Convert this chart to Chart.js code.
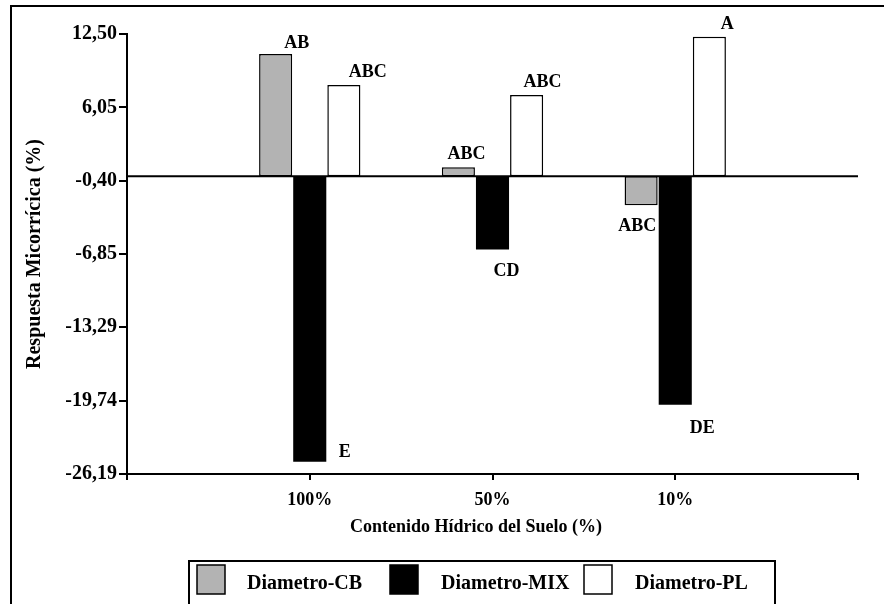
<!DOCTYPE html>
<html>
<head>
<meta charset="utf-8">
<script src="https://cdn.jsdelivr.net/npm/chart.js@4.4.1/dist/chart.umd.min.js"></script>
<style>
  html, body { margin: 0; padding: 0; background: #fff; }
  canvas { display: block; }
</style>
</head>
<body>
<canvas id="chart" width="884" height="604"></canvas>
<script>
  // values
  const categories = ['100%', '50%', '10%'];
  const seriesNames = ['Diametro-CB', 'Diametro-MIX', 'Diametro-PL'];
  const cbValues = [10.75, 0.79, -2.56];
  const mixValues = [-25.12, -6.44, -20.10];
  const plValues = [8.02, 7.14, 12.25];
  const cbLetters = ['AB', 'ABC', 'ABC'];
  const mixLetters = ['E', 'CD', 'DE'];
  const plLetters = ['ABC', 'ABC', 'A'];
  const yTicks = [12.50, 6.05, -0.40, -6.85, -13.29, -19.74, -26.19];
  const yTickLabels = ['12,50', '6,05', '-0,40', '-6,85', '-13,29', '-19,74', '-26,19'];

  const serif = '"Liberation Serif", "Times New Roman", serif';

  // empty slots at both ends so the axis runs past the outer groups
  const labels = ['', ...categories, ''];
  const pad = (arr) => [null, ...arr, null];

  // letter placement relative to the bar end: [dx, dy]
  const letterOffsets = [
    [[21, -6], [8, -8], [-4, 26]],
    [[35, -5], [14, 27], [27, 28]],
    [[24, -8], [16, -8], [18, -8]],
  ];

  const decorations = {
    id: 'decorations',
    beforeDraw(chart) {
      const ctx = chart.ctx;
      ctx.save();
      ctx.strokeStyle = '#000';
      ctx.lineWidth = 2;
      ctx.beginPath();
      ctx.moveTo(11, 604);
      ctx.lineTo(11, 6);
      ctx.lineTo(884, 6);
      ctx.stroke();
      ctx.restore();
    },
    beforeDatasetsDraw(chart) {
      const { ctx, chartArea, scales } = chart;
      const y0 = scales.y.getPixelForValue(0);
      ctx.save();
      ctx.strokeStyle = '#000';
      ctx.lineWidth = 2;
      ctx.beginPath();
      ctx.moveTo(chartArea.left, y0);
      ctx.lineTo(chartArea.right, y0);
      ctx.stroke();
      ctx.restore();
    },
    afterDraw(chart) {
      const ctx = chart.ctx;
      const letters = [cbLetters, mixLetters, plLetters];
      ctx.save();
      ctx.fillStyle = '#000';
      ctx.textAlign = 'center';
      ctx.textBaseline = 'alphabetic';
      ctx.font = 'bold 18px ' + serif;
      chart.data.datasets.forEach((ds, di) => {
        const meta = chart.getDatasetMeta(di);
        letters[di].forEach((txt, i) => {
          const bar = meta.data[i + 1];
          const [dx, dy] = letterOffsets[di][i];
          ctx.fillText(txt, bar.x + dx, bar.y + dy);
        });
      });

      // x axis title
      ctx.font = 'bold 18px ' + serif;
      ctx.fillText('Contenido Hídrico del Suelo (%)', 476, 532);

      // boxed legend
      ctx.lineWidth = 2;
      ctx.strokeStyle = '#000';
      ctx.strokeRect(189, 561, 586, 44);
      const boxX = [197, 390, 584];
      const textX = [247, 441, 635];
      ctx.font = 'bold 20px ' + serif;
      ctx.textAlign = 'left';
      chart.data.datasets.forEach((ds, di) => {
        ctx.fillStyle = ds.backgroundColor;
        ctx.fillRect(boxX[di], 565, 28, 29);
        ctx.lineWidth = 1.5;
        ctx.strokeRect(boxX[di], 565, 28, 29);
        ctx.fillStyle = '#000';
        ctx.fillText(ds.label, textX[di], 589);
      });
      ctx.restore();
    },
  };

  new Chart(document.getElementById('chart'), {
    type: 'bar',
    data: {
      labels: labels,
      datasets: [
        { label: seriesNames[0], data: pad(cbValues), backgroundColor: '#b3b3b3', borderColor: '#000', borderWidth: 1.5 },
        { label: seriesNames[1], data: pad(mixValues), backgroundColor: '#000', borderColor: '#000', borderWidth: 0 },
        { label: seriesNames[2], data: pad(plValues), backgroundColor: '#fff', borderColor: '#000', borderWidth: 1.5 },
      ],
    },
    options: {
      responsive: false,
      animation: false,
      layout: { padding: { left: 12, top: 34, right: 26, bottom: 90 } },
      datasets: {
        bar: { categoryPercentage: 0.56, barPercentage: 0.97, borderSkipped: false },
      },
      plugins: { legend: { display: false }, tooltip: { enabled: false } },
      scales: {
        x: {
          offset: false,
          grid: { offset: false, drawOnChartArea: false, drawTicks: true, tickLength: 6, color: '#000', lineWidth: 2 },
          border: { display: true, color: '#000', width: 2 },
          ticks: { color: '#000', padding: 10, font: { family: serif, size: 18, weight: 'bold' }, maxRotation: 0, autoSkip: false },
          afterFit(scale) { scale.height = 40; },
        },
        y: {
          min: yTicks[yTicks.length - 1],
          max: yTicks[0],
          afterBuildTicks(scale) { scale.ticks = yTicks.map((v) => ({ value: v })); },
          grid: { drawOnChartArea: false, drawTicks: true, tickLength: 8, color: '#000', lineWidth: 2 },
          border: { display: true, color: '#000', width: 2 },
          ticks: {
            color: '#000',
            padding: 2,
            font: { family: serif, size: 20, weight: 'bold' },
            callback: (v) => yTickLabels[yTicks.indexOf(v)] ?? '',
          },
          title: {
            display: true,
            text: 'Respuesta Micorrícica (%)',
            color: '#000',
            font: { family: serif, size: 20, weight: 'bold' },
            padding: { top: 11, bottom: 0 },
          },
          afterFit(scale) { scale.width = 115; },
        },
      },
    },
    plugins: [decorations],
  });
</script>
</body>
</html>
